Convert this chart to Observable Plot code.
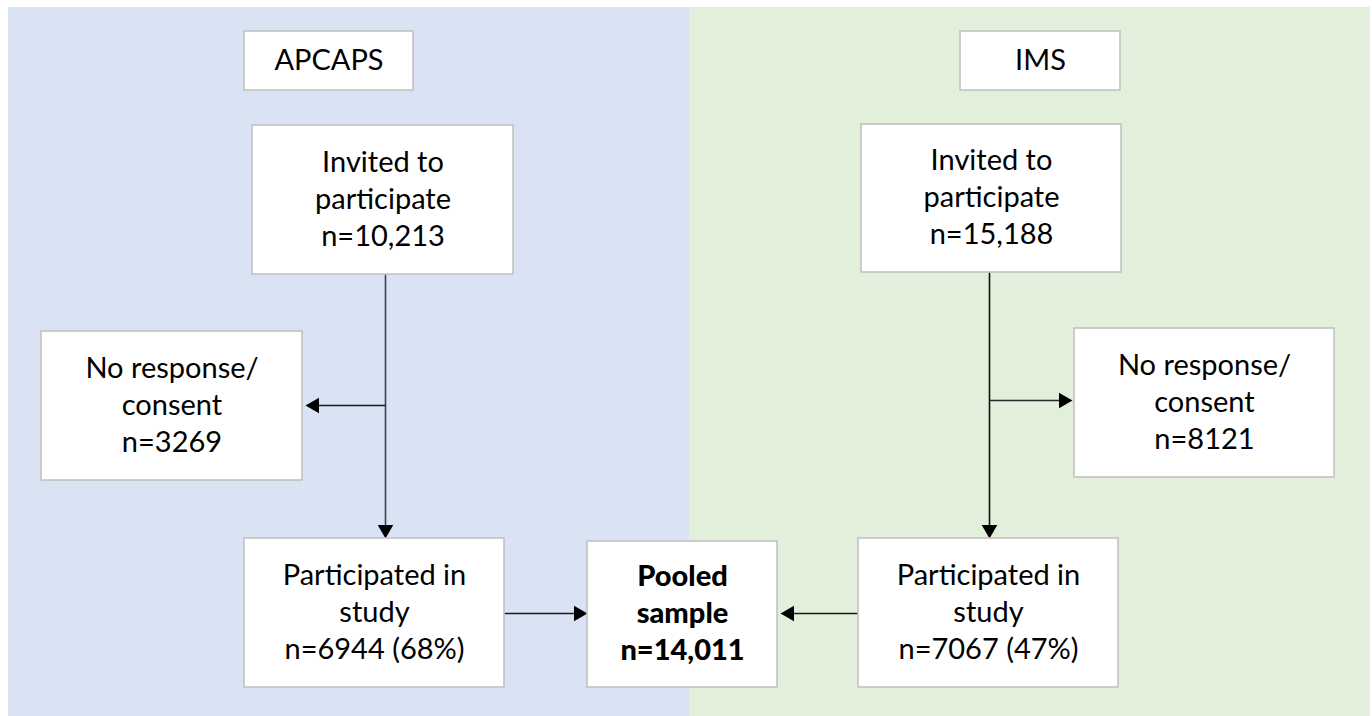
<!DOCTYPE html>
<html>
<head>
<meta charset="utf-8">
<script src="https://cdn.jsdelivr.net/npm/d3@7"></script>
<script src="https://cdn.jsdelivr.net/npm/@observablehq/plot@0.6"></script>
<style>
  html, body { margin: 0; padding: 0; background: #ffffff; }
  #chart svg { display: block; }
</style>
</head>
<body>
<div id="chart"></div>
<script>
// ---- content ----
const panelNames = ["APCAPS", "IMS"];
const boxIds = ["apTitle", "imsTitle", "apInvited", "imsInvited", "apNoResp", "imsNoResp", "apPart", "pooled", "imsPart"];
const boxLabels = [
  "APCAPS",
  "IMS",
  "Invited to\nparticipate\nn=10,213",
  "Invited to\nparticipate\nn=15,188",
  "No response/\nconsent\nn=3269",
  "No response/\nconsent\nn=8121",
  "Participated in\nstudy\nn=6944 (68%)",
  "Pooled\nsample\nn=14,011",
  "Participated in\nstudy\nn=7067 (47%)"
];
const boxBold = [false, false, false, false, false, false, false, true, false];

// ---- layout (diagram units = pixels of the canvas) ----
const panelX1 = [8, 689];
const panelX2 = [689, 1370];
const panelY1 = [7, 7];
const panelY2 = [716, 716];
const boxX1 = [244, 960, 252, 861, 41, 1074, 244, 587, 858];
const boxX2 = [413, 1120, 513, 1121, 302, 1334, 504, 777, 1118];
const boxY1 = [31, 31, 125, 124, 331, 328, 538, 541, 538];
const boxY2 = [90, 90, 274, 272, 480, 477, 687, 687, 687];
// arrows: start -> tip
const arrowX1 = [385, 385, 989, 989, 504, 858];
const arrowY1 = [274, 405, 272, 400, 613, 613];
const arrowX2 = [385, 305, 989, 1072, 587, 780];
const arrowY2 = [538, 405, 538, 400, 613, 613];
const arrowCol = ["#3a4250", "#1a1a1a", "#111111", "#2a2a2a", "#1a1a1a", "#1a1a1a"];

const panels = panelNames.map((n, i) => ({name: n, x1: panelX1[i], x2: panelX2[i], y1: panelY1[i], y2: panelY2[i], fill: i === 0 ? "#dae3f3" : "#e2efda"}));
const boxes = boxIds.map((id, i) => ({id, label: boxLabels[i], bold: boxBold[i], x1: boxX1[i], x2: boxX2[i], y1: boxY1[i], y2: boxY2[i]}));
const arrows = arrowX1.map((x, i) => ({x1: x, y1: arrowY1[i], x2: arrowX2[i], y2: arrowY2[i], c: arrowCol[i]}));

// arrowhead triangles (d3 triangle symbol: tip at 2a from centroid, height 3a)
const headLen = 13.5;
const a = headLen / 3;
const heads = arrows.map(d => {
  const dx = d.x2 - d.x1, dy = d.y2 - d.y1, L = Math.hypot(dx, dy);
  const ux = dx / L, uy = dy / L;
  const ang = Math.atan2(dy, dx) * 180 / Math.PI + 90;
  return {x: d.x2 - ux * 2 * a, y: d.y2 - uy * 2 * a, rotate: ang, c: "#000000"};
});
const lines = arrows.map((d, i) => {
  const dx = d.x2 - d.x1, dy = d.y2 - d.y1, L = Math.hypot(dx, dy);
  return {x1: d.x1, y1: d.y1, x2: d.x2 - dx / L * (headLen - 2), y2: d.y2 - dy / L * (headLen - 2), c: d.c};
});
const triR = Math.sqrt(3 * Math.sqrt(3) * a * a / Math.PI);

const W = 1372, H = 716;
const FS = 29;
const chart = Plot.plot({
  width: W,
  height: H,
  margin: 0,
  x: {domain: [0, W], axis: null},
  y: {domain: [0, H], axis: null, reverse: true},
  style: {background: "#ffffff", fontFamily: "Lato, 'Open Sans', sans-serif"},
  marks: [
    Plot.rect(panels, {x1: "x1", x2: "x2", y1: "y1", y2: "y2", fill: "fill"}),
    Plot.link(lines, {x1: "x1", y1: "y1", x2: "x2", y2: "y2", stroke: "c", strokeWidth: 1.6}),
    Plot.dot(heads, {x: "x", y: "y", symbol: "triangle", r: triR, rotate: "rotate", fill: "c", stroke: "none"}),
    Plot.rect(boxes, {x1: "x1", x2: "x2", y1: "y1", y2: "y2", fill: "#ffffff", stroke: "#bfbfbf", strokeWidth: 1.5}),
    Plot.text(boxes.filter(d => !d.bold), {
      x: d => (d.x1 + d.x2) / 2, y: d => (d.y1 + d.y2) / 2, text: "label", dy: -3,
      fontSize: FS, lineHeight: 37 / FS, fill: "#000000", textAnchor: "middle"
    }),
    Plot.text(boxes.filter(d => d.bold), {
      x: d => (d.x1 + d.x2) / 2, y: d => (d.y1 + d.y2) / 2, text: "label", dy: -3,
      fontSize: FS, lineHeight: 37 / FS, fontWeight: 900, fill: "#000000", textAnchor: "middle"
    })
  ]
});
document.getElementById("chart").appendChild(chart);
</script>
</body>
</html>
